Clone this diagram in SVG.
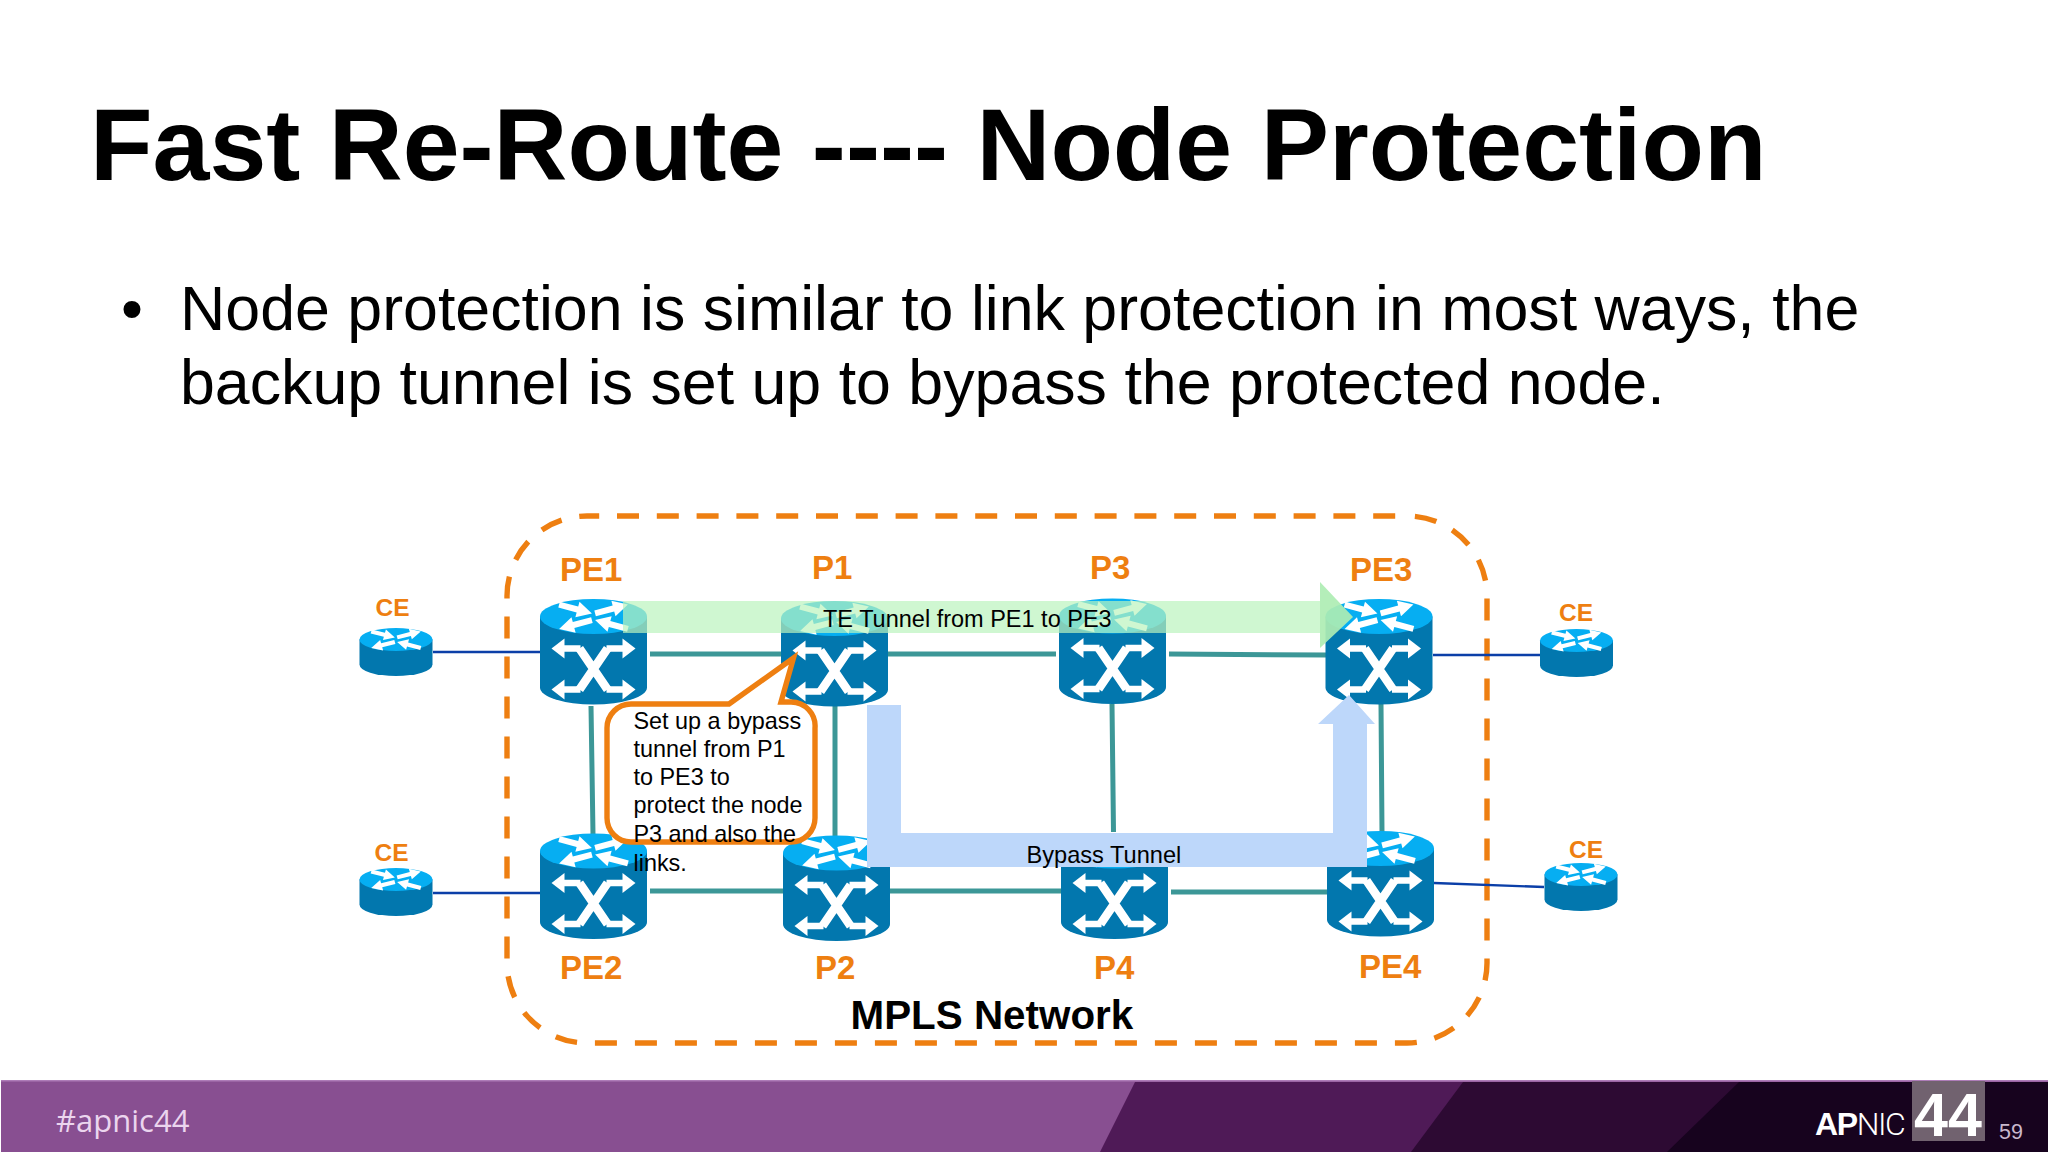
<svg xmlns="http://www.w3.org/2000/svg" xmlns:xlink="http://www.w3.org/1999/xlink" width="2048" height="1152" viewBox="0 0 2048 1152">
<style>
text{font-family:"Liberation Sans",Arial,sans-serif;fill:#000}
.lbl{font-weight:700;font-size:33px;fill:#EE7F11}
.ce{font-weight:700;font-size:24.5px;fill:#EE7F11}
.cap{font-size:23.4px}
.teal{stroke:#3C9797;fill:none}
.navy{stroke:#0B3FA8;stroke-width:2.4;fill:none}
.dash{fill:none;stroke:#EE7F11;stroke-width:5.400}
.body{fill:#0277AE}
.top{fill:#06AEF2}
.w{fill:#fff}
.ws{fill:none;stroke:#fff;stroke-linejoin:miter}
</style>
<defs>
<polygon id="ta" class="w" points="-17,-3 2,-3 2,-8 17,0 2,8 2,3 -17,3"/>
<g id="tops">
<use xlink:href="#ta" href="#ta" transform="translate(-18,-7.5) rotate(15)"/>
<use xlink:href="#ta" href="#ta" transform="translate(18,-7.5) rotate(-15)"/>
<use xlink:href="#ta" href="#ta" transform="translate(-18,8) rotate(165)"/>
<use xlink:href="#ta" href="#ta" transform="translate(18,8) rotate(195)"/>
</g>
<g id="router">
<path class="body" d="M-53.5,0V71A53.5,17 0 0 0 53.5,71V0Z"/>
<ellipse class="top" rx="53.5" ry="17.5"/>
<use xlink:href="#tops" href="#tops"/>
<path class="ws" stroke-width="6.500" d="M-32,32H-13M32,32H13M-32,73H-13M32,73H13"/>
<path class="ws" stroke-width="8.500" d="M-14,32L14,73M14,32L-14,73"/>
<polygon class="w" points="-42,32 -29,22 -29,42"/>
<polygon class="w" points="42,32 29,22 29,42"/>
<polygon class="w" points="-42,73 -29,63 -29,83"/>
<polygon class="w" points="42,73 29,63 29,83"/>
</g>
<g id="cerouter">
<path class="body" d="M-36.5,0V25A36.5,11.5 0 0 0 36.5,25V0Z"/>
<ellipse class="top" rx="36.5" ry="11.5"/>
<use xlink:href="#tops" href="#tops" transform="scale(.72,.68)"/>
</g>
</defs>
<rect width="2048" height="1152" fill="#fff"/>
<g id="slide-text">
<text x="90" y="180" font-size="102.300" font-weight="700">Fast Re-Route ---- Node Protection</text>
<text x="121" y="330" font-size="62.700">•</text>
<text x="180" y="330" font-size="62.700">Node protection is similar to link protection in most ways, the</text>
<text x="180" y="404" font-size="62.700">backup tunnel is set up to bypass the protected node.</text>
</g>
<g id="mpls-boundary">
<path class="dash" stroke-dasharray="22 18" stroke-dashoffset="32" d="M1407,516A80,80 0 0 1 1487,596V963A80,80 0 0 1 1407,1043H587A80,80 0 0 1 507,963V596A80,80 0 0 1 587,516"/>
<path class="dash" stroke-dasharray="22 17.8" stroke-dashoffset="9.8" d="M587,516H1407"/>
<text x="850.500" y="1029" font-size="40.400" font-weight="700">MPLS Network</text>
</g>
<g id="connectors">
<path class="navy" d="M433,652H540M433,893H540M1433,655H1540M1434,883L1544,887"/>
<path class="teal" stroke-width="5" d="M650,654H781M888,654H1056M1169,654L1327,655M650,891H783M890,891H1061M1171,892H1327"/>
<path class="teal" stroke-width="5" d="M591,706L593,834M835,706V836M1112,704L1113.500,832M1381,704L1382,832"/>
</g>
<g id="CE1"><use xlink:href="#cerouter" href="#cerouter" x="396" y="639.500"/><text class="ce" x="375.500" y="615.500">CE</text></g>
<g id="CE2"><use xlink:href="#cerouter" href="#cerouter" x="396" y="879.500"/><text class="ce" x="374.500" y="861">CE</text></g>
<g id="CE3"><use xlink:href="#cerouter" href="#cerouter" x="1576.500" y="640.500"/><text class="ce" x="1559" y="621">CE</text></g>
<g id="CE4"><use xlink:href="#cerouter" href="#cerouter" x="1581" y="874.500"/><text class="ce" x="1569" y="857.500">CE</text></g>
<g id="PE1"><use xlink:href="#router" href="#router" x="593.500" y="616.500"/><text class="lbl" x="560" y="581">PE1</text></g>
<g id="P1"><use xlink:href="#router" href="#router" x="834.500" y="618.500"/><text class="lbl" x="812" y="579">P1</text></g>
<g id="P3"><use xlink:href="#router" href="#router" x="1112.500" y="616"/><text class="lbl" x="1090" y="579">P3</text></g>
<g id="PE3"><use xlink:href="#router" href="#router" x="1379" y="616.500"/><text class="lbl" x="1350" y="581">PE3</text></g>
<g id="PE2"><use xlink:href="#router" href="#router" x="593.500" y="851"/><text class="lbl" x="560" y="979">PE2</text></g>
<g id="P2"><use xlink:href="#router" href="#router" x="836.500" y="853"/><text class="lbl" x="815" y="979">P2</text></g>
<g id="P4"><use xlink:href="#router" href="#router" x="1114.500" y="851"/><text class="lbl" x="1094" y="979">P4</text></g>
<g id="PE4"><use xlink:href="#router" href="#router" x="1380.500" y="848.500"/><text class="lbl" x="1359" y="978">PE4</text></g>
<g id="te-tunnel">
<rect x="623" y="601" width="697" height="32" fill="#BBF3BE" opacity=".7"/>
<polygon points="1320,582 1353,617 1320,648" fill="#AEEDB3" opacity=".92"/>
<text x="823" y="627" style="font-size:23.500px">TE Tunnel from PE1 to PE3</text>
</g>
<g id="bypass-tunnel">
<polygon points="867,705 901,705 901,833 1333,833 1333,724 1318,724 1349,695 1375,724 1367,724 1367,867 867,867" fill="#BDD7FA"/>
<text x="1026.500" y="862.500" style="font-size:23.600px">Bypass Tunnel</text>
</g>
<g id="callout">
<path d="M631,704H729L793.500,658L781,702H791A24,24 0 0 1 815,728V818A24,24 0 0 1 791,842H631A24,24 0 0 1 607,818V728A24,24 0 0 1 631,704Z" fill="#fff" stroke="#EE7F11" stroke-width="5.400"/>
<text class="cap" x="633.500" y="729">Set up a bypass</text>
<text class="cap" x="633.500" y="757">tunnel from P1</text>
<text class="cap" x="633.500" y="785">to PE3 to</text>
<text class="cap" x="633.500" y="813">protect the node</text>
<text class="cap" x="633.500" y="842">P3 and also the</text>
<text class="cap" x="633.500" y="871">links.</text>
</g>
<g id="footer">
<rect x="1" y="1081" width="2047" height="71" fill="#884F91"/>
<rect x="1" y="1080" width="2047" height="1.500" fill="#AE7CB8"/>
<polygon points="1135,1082 2048,1082 2048,1152 1100,1152" fill="#4F1A57"/>
<polygon points="1463,1082 2048,1082 2048,1152 1411,1152" fill="#2D0A33"/>
<polygon points="1739,1082 2048,1082 2048,1152 1667,1152" fill="#17031E"/>
<rect x="1912" y="1081" width="73" height="60" fill="#71626F"/>
<text x="56" y="1132" font-size="31" style="font-family:'Open Sans',sans-serif;fill:#EBD5EE">#apnic44</text>
<text x="1815" y="1135" font-size="32" letter-spacing="-1.400" style="fill:#fff"><tspan font-weight="700">AP</tspan><tspan style="font-family:Roboto,sans-serif;font-weight:300">NIC</tspan></text>
<text x="1914" y="1136" font-size="61" font-weight="700" style="fill:#fff">44</text>
<text x="1999" y="1139" font-size="21.500" style="fill:#C9B8CC">59</text>
</g>
</svg>
